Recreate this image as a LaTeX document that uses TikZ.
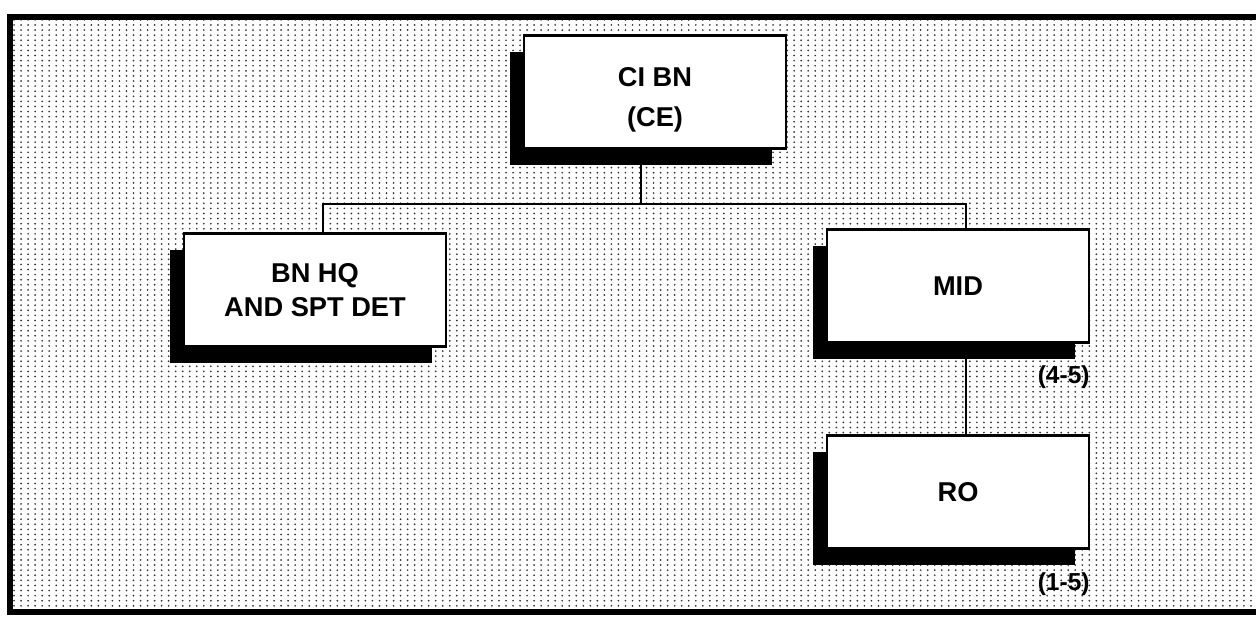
\documentclass[tikz,border=0pt]{standalone}
\usepackage{fontspec}
\setmainfont{Liberation Sans}
\usetikzlibrary{shadows,patterns,positioning}

\pgfdeclarepatternformonly{stipple}{\pgfqpoint{-1pt}{-1pt}}{\pgfqpoint{1pt}{1pt}}{\pgfqpoint{4pt}{2.9pt}}%
{\pgfpathcircle{\pgfqpoint{0pt}{0pt}}{.55pt}\pgfusepath{fill}}

\begin{document}
\begin{tikzpicture}[x=0.02cm, y=-0.02cm,
        unit/.style={draw, line width=1.2pt, fill=white, align=center,
                minimum width=5.24cm, minimum height=2.26cm, inner sep=0pt,
                font=\fontsize{15.5}{19}\selectfont\bfseries,
                drop shadow={shadow xshift=-0.28cm, shadow yshift=-0.33cm, fill=black, opacity=1}},
        strength/.style={font=\fontsize{14}{16}\selectfont\bfseries, inner sep=0pt},
        link/.style={line width=1.1pt}]

        \useasboundingbox (0,0) rectangle (1256,616);
        \fill[white] (0,0) rectangle (1256,616);
        \fill[pattern=stipple, pattern color=black!80] (10,17) rectangle (1256,612);
        \draw[line width=3.4pt] (1256,17) -- (10,17) -- (10,612) -- (1256,612);

        \node[unit] (ci) at (655,92) {\rule{0pt}{20pt}CI BN\\[4pt](CE)};
        \node[unit] (hq) at (315,290) {BN HQ\\AND SPT DET};
        \node[unit] (mid) at (958,286) {MID};
        \node[unit] (ro) at (958,492) {RO};

        \coordinate (bus) at (641,204);
        \coordinate (busL) at (323,204);
        \coordinate (busR) at (966,204);

        \draw[link] (ci.south -| bus) -- (bus);
        \draw[link] (hq.north -| busL) -- (busL) -- (busR) -- (mid.north -| busR);
        \draw[link] (mid.south -| busR) -- (ro.north -| busR);

        \node[strength, below left=0.44cm and 0cm of mid.south east] (midsize) {(4-5)};
        \node[strength, below left=0.46cm and 0cm of ro.south east] (rosize) {(1-5)};
    \end{tikzpicture}
\end{document}
